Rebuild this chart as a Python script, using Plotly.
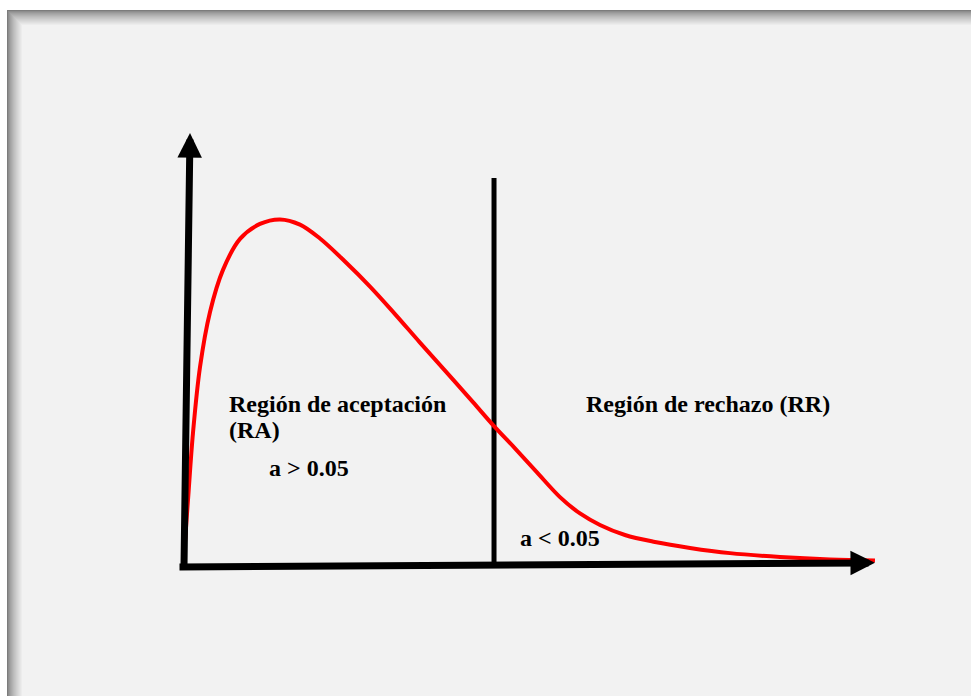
import plotly.graph_objects as go

# curve of the distribution (chart units: x along the horizontal axis, y = density, peak ~ 1)
curve_x = [-0.007, 0.058, 0.130, 0.232, 0.377, 0.565, 0.812, 1.101, 1.391, 1.681, 1.971,
           2.333, 2.696, 3.058, 3.420, 3.812, 4.188, 4.493, 4.797, 5.116, 5.449, 5.739,
           6.029, 6.391, 6.826, 7.333, 7.913, 8.638, 9.362, 10.014]
curve_y = [0.011, 0.190, 0.382, 0.572, 0.730, 0.851, 0.940, 0.983, 0.996, 0.981, 0.941,
           0.875, 0.803, 0.724, 0.642, 0.555, 0.471, 0.402, 0.338, 0.269, 0.198, 0.151,
           0.118, 0.089, 0.069, 0.052, 0.037, 0.026, 0.019, 0.016]

# critical value separating the two regions
critical_x = 4.493
critical_top = 1.115

# drawn axes (tail -> arrow tip)
yaxis_arrow = [(0.0, 0.0), (0.087, 1.244)]
xaxis_arrow = [(-0.087, -0.003), (10.014, 0.009)]

labels = ["Región de aceptación", "(RA)", "a > 0.05", "Región de rechazo (RR)", "a < 0.05"]
label_x = [0.623, 0.623, 1.203, 5.797, 4.841]
label_y = [0.465, 0.391, 0.282, 0.465, 0.080]

W, H = 971, 696

fig = go.Figure()
fig.add_scatter(x=[critical_x, critical_x], y=[0, critical_top], mode='lines',
                line=dict(color='black', width=5), hoverinfo='skip')
fig.add_scatter(x=curve_x, y=curve_y, mode='lines',
                line=dict(color='#ff0000', width=4, shape='spline', smoothing=1),
                hoverinfo='skip')

for (x0, y0), (x1, y1) in [xaxis_arrow, yaxis_arrow]:
    fig.add_annotation(x=x1, y=y1, ax=x0, ay=y0, xref='x', yref='y', axref='x', ayref='y',
                       text='', showarrow=True, arrowhead=2, arrowsize=0.7, arrowwidth=7,
                       arrowcolor='black', standoff=0, startstandoff=0)

for t, x, y in zip(labels, label_x, label_y):
    fig.add_annotation(x=x, y=y, xref='x', yref='y', text=t, showarrow=False,
                       xanchor='left', yanchor='middle', align='left',
                       font=dict(family='Liberation Serif, Times New Roman, serif', size=24,
                                 color='black', weight='bold'))

# white margin + soft shadow on the top/left of the slide panel
shapes = []
n = 16
for i in range(n):
    t = i / (n - 1)
    c = int(0x7c + (0xf2 - 0x7c) * t ** 0.7)
    shapes.append(dict(type='rect', xref='paper', yref='paper', layer='below',
                       x0=(7 + i) / W, x1=1, y0=0, y1=1 - (10 + i) / H,
                       line=dict(width=0), fillcolor=f'rgb({c},{c},{c})'))

fig.update_layout(width=W, height=H, margin=dict(l=0, r=0, t=0, b=0),
                  paper_bgcolor='white', plot_bgcolor='rgba(0,0,0,0)', showlegend=False,
                  shapes=shapes)
fig.update_xaxes(range=[-184 / 69, (W - 184) / 69], visible=False, fixedrange=True)
fig.update_yaxes(range=[(566 - H) / 348, 566 / 348], visible=False, fixedrange=True)

# drop the default body margin so the figure sits at the window origin
fig.write_html("out.html", config={'displayModeBar': False},
               post_script="document.body.style.margin='0';document.body.style.overflow='hidden';")
